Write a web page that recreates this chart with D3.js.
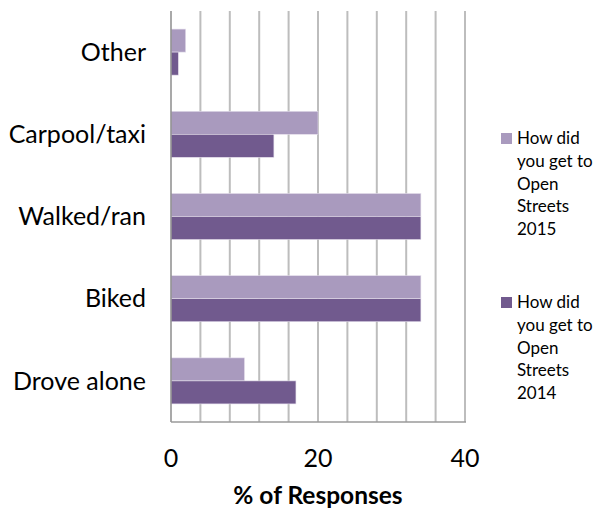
<!DOCTYPE html>
<html>
<head>
<meta charset="utf-8">
<script src="https://cdn.jsdelivr.net/npm/d3@7"></script>
<style>
  html, body { margin: 0; padding: 0; background: #fff; }
  svg { display: block; font-family: Lato, "Open Sans", sans-serif; }
</style>
</head>
<body>
<svg id="chart" width="602" height="511"></svg>
<script>
// Travel modes to Open Streets, % of responses
const categories = ["Other", "Carpool/taxi", "Walked/ran", "Biked", "Drove alone"];
const values2015 = [2, 20, 34, 34, 10];
const values2014 = [1, 14, 34, 34, 17];
const seriesNames = ["How did you get to Open Streets 2015", "How did you get to Open Streets 2014"];
const legendLines = [
  ["How did", "you get to", "Open", "Streets", "2015"],
  ["How did", "you get to", "Open", "Streets", "2014"]
];
const xTicks = [0, 20, 40];
const gridTicks = d3.range(0, 41, 4);
const colors = ["#A99ABE", "#715A8E"];

const svg = d3.select("#chart");
const m = { left: 171, right: 465, top: 11, bottom: 422 };

const x = d3.scaleLinear().domain([0, 40]).range([m.left, m.right]);
const y = d3.scaleBand().domain(categories).range([m.top, m.bottom]).paddingInner(0.44).paddingOuter(0.22);
const sub = d3.scaleBand().domain([0, 1]).range([0, y.bandwidth()]);

// vertical gridlines
svg.append("g").selectAll("line").data(gridTicks.slice(1)).join("line")
  .attr("x1", d => x(d)).attr("x2", d => x(d))
  .attr("y1", m.top).attr("y2", m.bottom)
  .attr("stroke", "#BDBDBD").attr("stroke-width", 2);

// bars
const rows = categories.map((c, i) => ({ c, v: [values2015[i], values2014[i]] }));
const g = svg.append("g");
rows.forEach(r => {
  r.v.forEach((v, k) => {
    g.append("rect")
      .attr("x", x(0))
      .attr("y", y(r.c) + sub(k))
      .attr("width", x(v) - x(0))
      .attr("height", sub.bandwidth())
      .attr("fill", colors[k])
      .attr("stroke", "#E4DEEC").attr("stroke-width", 0.6);
  });
});

// axis lines
svg.append("line").attr("x1", m.left).attr("x2", m.left).attr("y1", m.top).attr("y2", m.bottom)
  .attr("stroke", "#8C8C8C").attr("stroke-width", 1.5);
svg.append("line").attr("x1", m.left).attr("x2", m.right + 1).attr("y1", m.bottom).attr("y2", m.bottom)
  .attr("stroke", "#9A9A9A").attr("stroke-width", 1.5);

// category labels
svg.append("g").selectAll("text").data(categories).join("text")
  .attr("x", 146).attr("y", d => y(d) + y.bandwidth() / 2)
  .attr("dy", "0.35em").attr("text-anchor", "end")
  .attr("font-size", 25).attr("fill", "#000").text(d => d);

// x tick labels
svg.append("g").selectAll("text").data(xTicks).join("text")
  .attr("x", d => x(d)).attr("y", 467)
  .attr("text-anchor", "middle").attr("font-size", 25).attr("fill", "#000")
  .text(d => d);

// axis title
svg.append("text").attr("x", x(20)).attr("y", 504)
  .attr("text-anchor", "middle").attr("font-size", 24.5).attr("font-weight", "bold")
  .attr("fill", "#000").text("% of Responses");

// legend
const legendTop = [138, 302];
legendLines.forEach((lines, k) => {
  const lg = svg.append("g");
  lg.append("rect").attr("x", 501).attr("y", legendTop[k] - 5).attr("width", 11).attr("height", 11)
    .attr("fill", colors[k]);
  lg.selectAll("text").data(lines).join("text")
    .attr("x", 517).attr("y", (d, i) => legendTop[k] + i * 22.8)
    .attr("dy", "0.35em").attr("font-size", 17).attr("fill", "#000")
    .text(d => d);
});
</script>
</body>
</html>
